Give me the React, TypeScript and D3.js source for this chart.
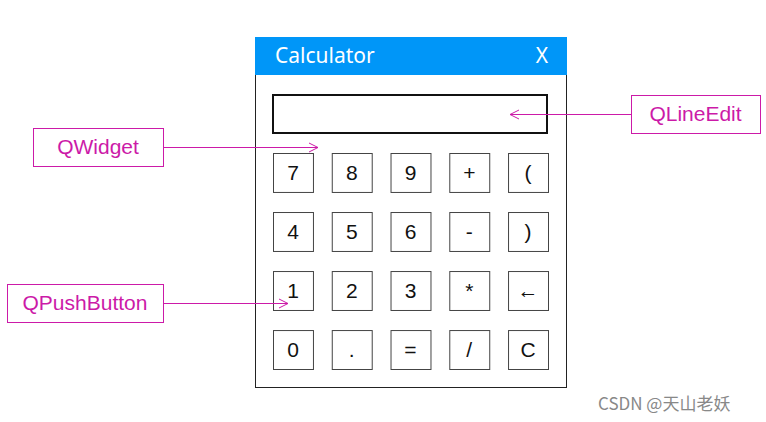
import { scaleBand } from "d3";

const buttonRows = [
  ["7", "8", "9", "+", "("],
  ["4", "5", "6", "-", ")"],
  ["1", "2", "3", "*", "←"],
  ["0", ".", "=", "/", "C"],
];

const callouts = [
  { label: "QWidget", x: 33, y: 128, w: 130, tipX: 318, side: "left" },
  { label: "QPushButton", x: 7, y: 284, w: 156, tipX: 288, side: "left" },
  { label: "QLineEdit", x: 631, y: 95, w: 129, tipX: 510, side: "right" },
];

const PINK = "#cc1aa8";

export default function App() {
  const xScale = scaleBand<number>()
    .domain([0, 1, 2, 3, 4])
    .range([273, 548])
    .paddingInner(0.32);
  const yScale = scaleBand<number>()
    .domain([0, 1, 2, 3])
    .range([153, 369])
    .paddingInner(0.34);

  return (
    <svg
      width={766}
      height={422}
      style={{ position: "absolute", left: 0, top: 0, fontFamily: "Noto Sans, sans-serif" }}
    >
      <rect width={766} height={422} fill="white" />
      {/* window */}
      <rect x={255.5} y={37.5} width={311} height={350} fill="white" stroke="#222" />
      <rect x={255} y={37} width={312} height={38} fill="#0096f8" />
      <text x={275} y={63} fill="white" fontSize={21}>Calculator</text>
      <text x={542} y={63} fill="white" fontSize={21} textAnchor="middle">X</text>
      <rect x={273} y={95} width={274} height={38} fill="white" stroke="#111" strokeWidth={2} />

      {buttonRows.map((row, r) =>
        row.map((b, c) => (
          <g key={`${r}-${c}`}>
            <rect
              x={xScale(c)! + 0.5}
              y={yScale(r)! + 0.5}
              width={xScale.bandwidth()}
              height={yScale.bandwidth()}
              fill="white"
              stroke="#444"
            />
            <text
              x={xScale(c)! + xScale.bandwidth() / 2}
              y={yScale(r)! + yScale.bandwidth() / 2}
              dy="0.35em"
              textAnchor="middle"
              fontSize={21}
              fontFamily="Liberation Sans, Arial, sans-serif"
              fill="#111"
            >
              {b}
            </text>
          </g>
        ))
      )}

      {callouts.map((c) => {
        const cy = c.y + 19;
        const startX = c.side === "left" ? c.x + c.w : c.x;
        const dir = c.side === "left" ? -1 : 1;
        return (
          <g key={c.label}>
            <rect x={c.x + 0.5} y={c.y + 0.5} width={c.w} height={38} fill="white" stroke={PINK} />
            <text
              x={c.x + c.w / 2}
              y={cy}
              dy="0.35em"
              textAnchor="middle"
              fontSize={21}
              fontFamily="Liberation Sans, Arial, sans-serif"
              fill={PINK}
            >
              {c.label}
            </text>
            <line x1={startX} x2={c.tipX} y1={cy + 0.5} y2={cy + 0.5} stroke={PINK} />
            <path
              d={`M${c.tipX + dir * 9},${cy - 4} L${c.tipX},${cy + 0.5} L${c.tipX + dir * 9},${cy + 5}`}
              fill="none"
              stroke={PINK}
            />
          </g>
        );
      })}

      <text x={598} y={410} fontSize={17} fill="#888" fontFamily="Noto Sans CJK SC, sans-serif">
        CSDN @天山老妖
      </text>
    </svg>
  );
}
